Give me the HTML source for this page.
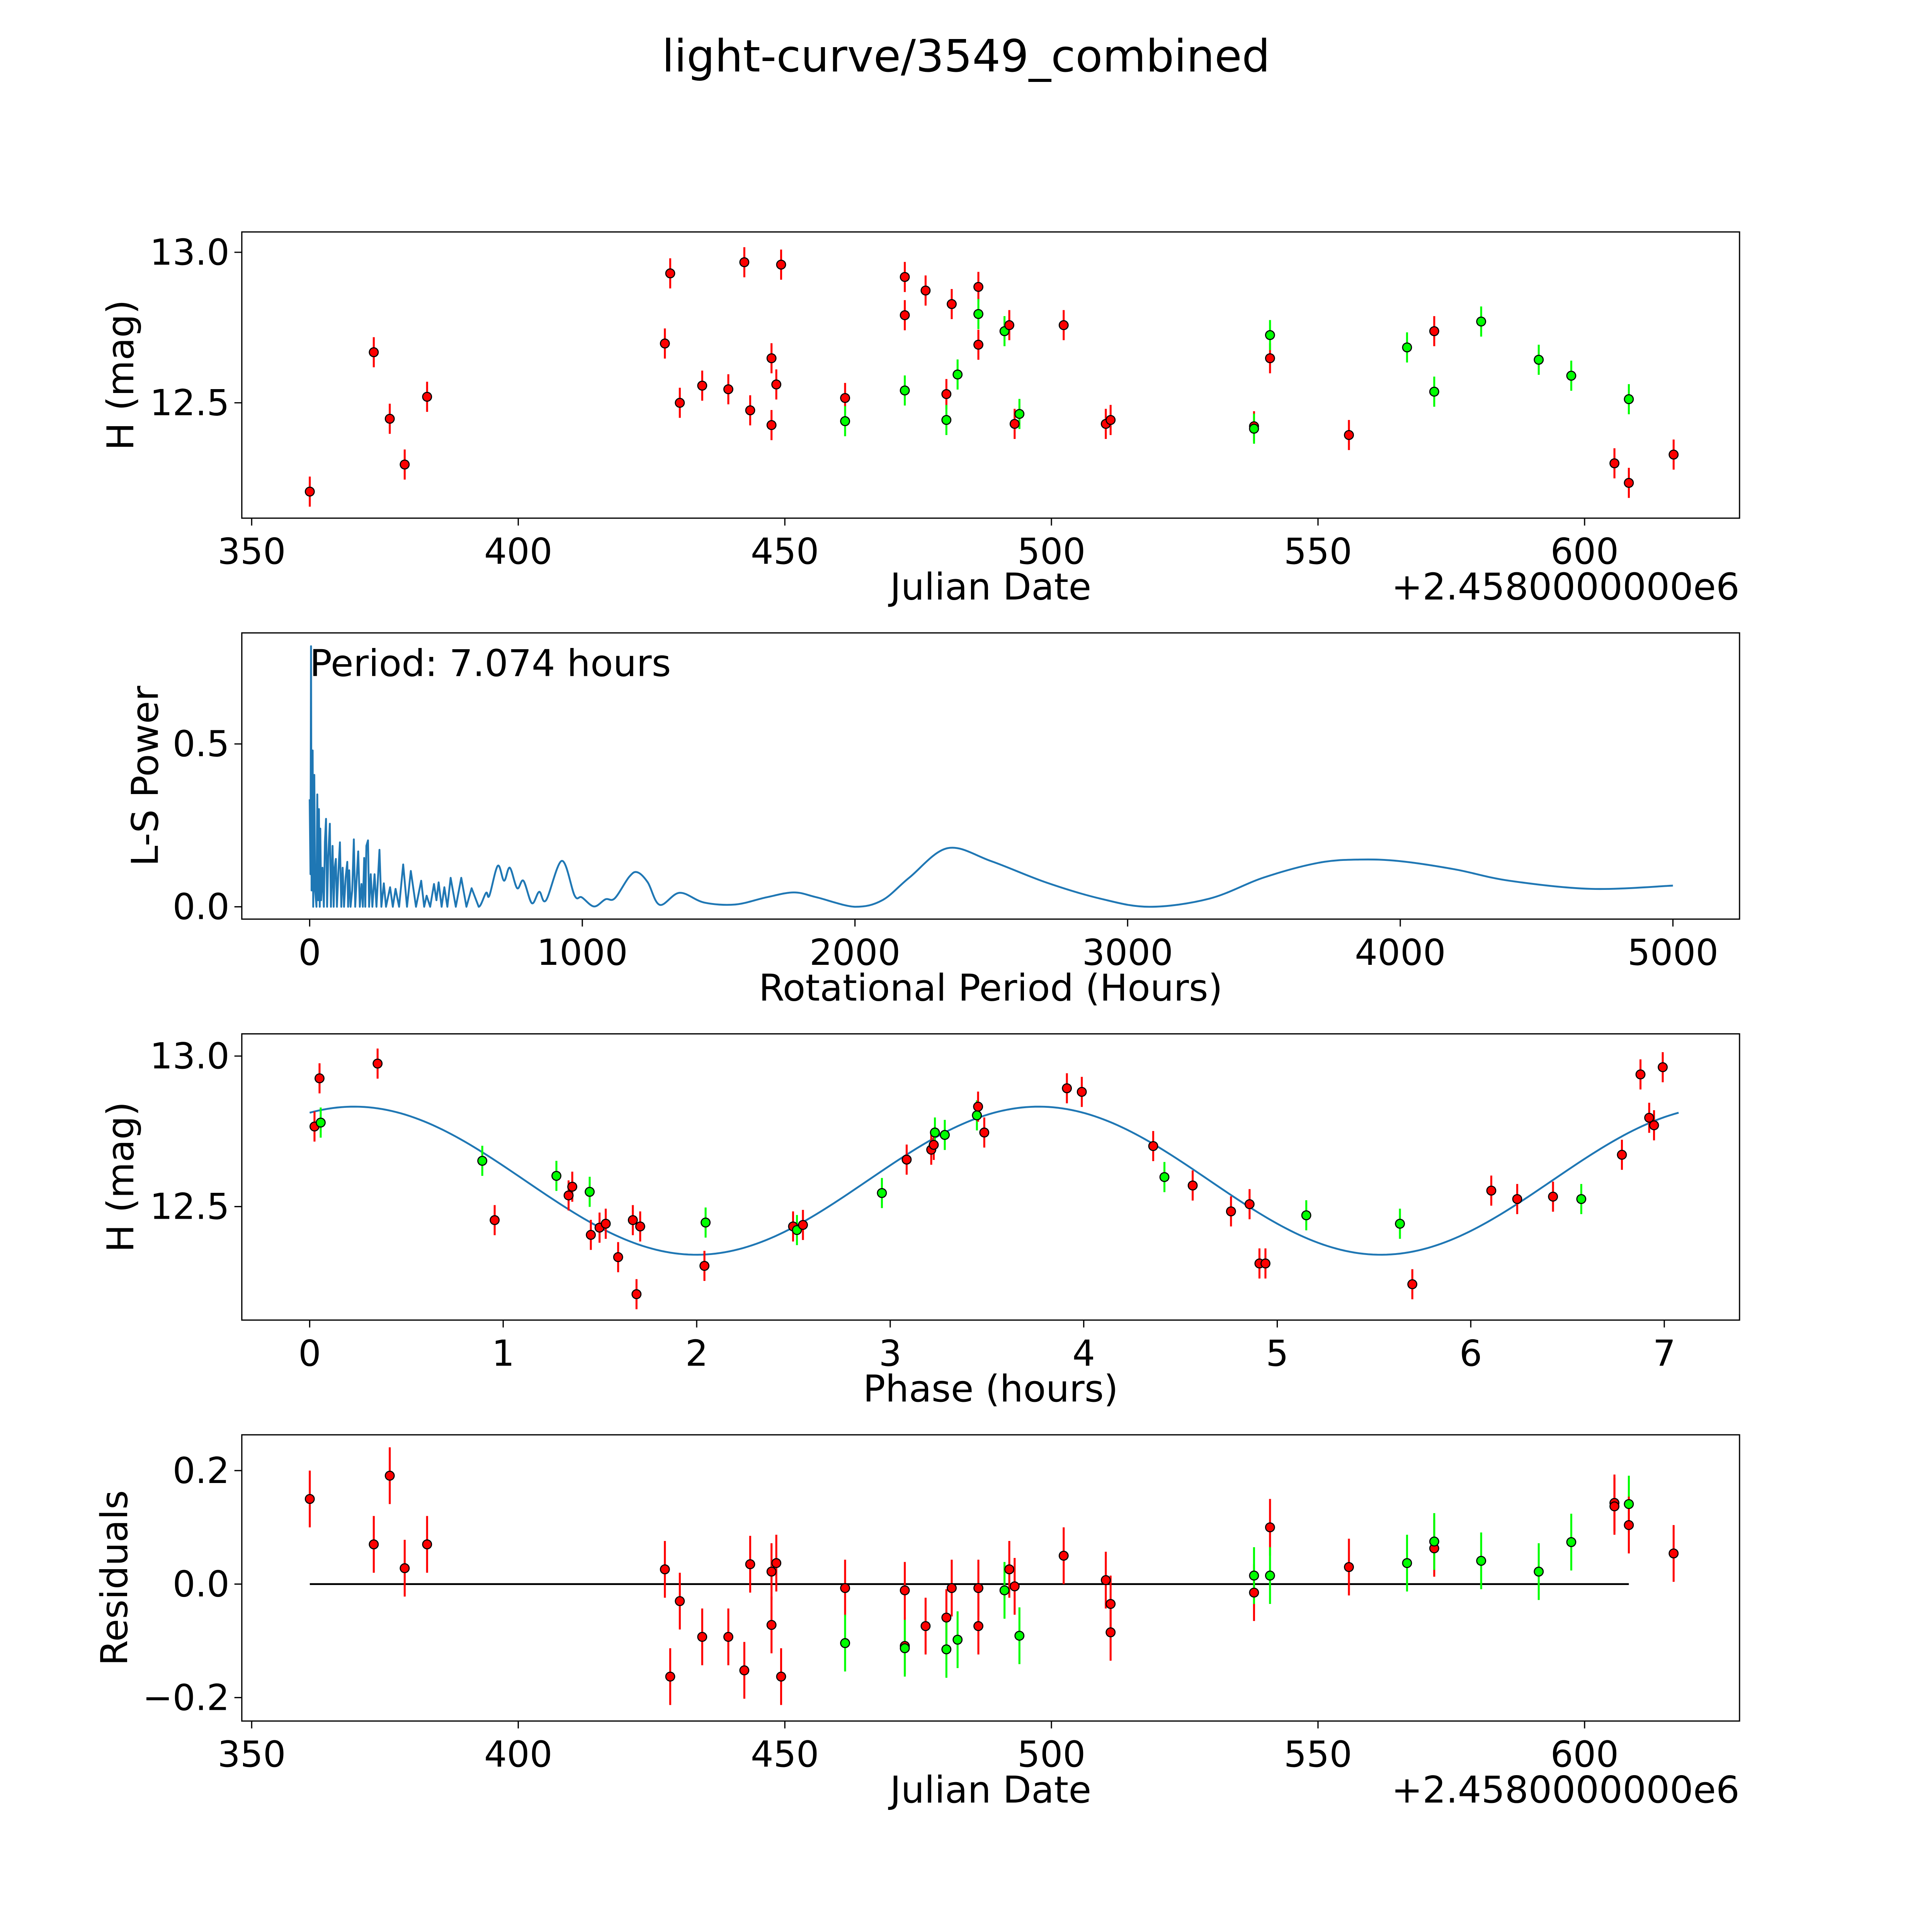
<!DOCTYPE html>
<html><head><meta charset="utf-8"><style>
html,body{margin:0;padding:0;background:#fff;overflow:hidden;}
svg{display:block;position:fixed;left:0;top:0;width:100vw;height:100vh;font-family:"DejaVu Sans","Liberation Sans",sans-serif;}
</style></head><body>
<svg id="fig" xmlns="http://www.w3.org/2000/svg" viewBox="0 0 1566 1566" preserveAspectRatio="xMidYMid meet">
<rect width="1566" height="1566" fill="#fff"/>
<text x="783" y="58" font-size="36" text-anchor="middle">light-curve/3549_combined</text>
</svg>
<script>
// ---- Panel 1 / 4 data (Julian date offset from 2458000) ----
const lcDates = [360.9,372.9,375.9,378.7,382.9,427.5,428.5,430.3,434.5,439.4,442.4,443.5,447.5,447.5,448.4,449.3,461.3,461.3,472.5,472.5,472.5,476.4,480.3,480.3,481.3,482.4,486.3,486.3,486.3,491.2,492.1,493.1,494.0,502.3,510.2,511.1,538.0,538.0,541.0,541.0,555.8,566.7,571.8,571.8,580.6,591.4,597.5,605.6,608.3,608.3,616.7];
const lcMags = [12.205,12.668,12.447,12.295,12.520,12.697,12.930,12.500,12.557,12.545,12.967,12.475,12.648,12.426,12.561,12.959,12.516,12.439,12.918,12.791,12.541,12.873,12.529,12.443,12.828,12.594,12.885,12.795,12.693,12.738,12.758,12.430,12.463,12.758,12.430,12.443,12.422,12.414,12.648,12.725,12.393,12.684,12.738,12.537,12.770,12.643,12.590,12.299,12.512,12.234,12.328];
const lcColors = ['r','r','r','r','r','r','r','r','r','r','r','r','r','r','r','r','r','g','r','r','g','r','r','g','r','g','r','g','r','g','r','r','g','r','r','r','r','g','r','g','r','g','r','g','g','g','g','r','g','r','r'];
const lcErr = 0.05;

// ---- Periodogram ----
const lsPeriods = [
 0,3,5,7,9,11,13,17,20,25,
 28,31,34,37,39,42,47,52,56,60,
 64,68,74,78,84,88,92,96,100,105,
 111,116,121,126,132,138,141,145,150,156,
 162,167,172,178,184,190,195,200,204,208,
 214,218,224,230,238,245,256,263,272,280,
 295,305,315,328,343,357,371,390,409,420,
 429,442,456,465,473,484,494,505,517,536,
 556,575,594,620,647,659,690,713,734,761,
 784,815,842,867,925,972,998,1043,1085,1119,
 1172,1202,1240,1284,1357,1447,1561,1675,1776,1860,
 2000,2100,2200,2340,2500,2700,2900,3080,3300,3500,
 3700,3850,4000,4200,4400,4700,5000];
const lsPower = [
 0.33,0.1,0.80,0.05,0.2,0.48,0.0,0.405,0.05,0.0,
 0.345,0.02,0.30,0.0,0.24,0.02,0.12,0.0,0.2,0.27,
 0.0,0.15,0.255,0.0,0.187,0.0,0.12,0.147,0.0,0.1,
 0.198,0.0,0.12,0.0,0.09,0.138,0.0,0.112,0.0,0.05,
 0.207,0.0,0.08,0.17,0.0,0.07,0.0,0.15,0.0,0.187,
 0.204,0.0,0.1,0.0,0.10,0.0,0.175,0.0,0.072,0.0,
 0.06,0.0,0.055,0.0,0.13,0.0,0.11,0.0,0.08,0.0,
 0.034,0.0,0.07,0.02,0.075,0.0,0.06,0.0,0.089,0.0,
 0.089,0.0,0.057,0.0,0.043,0.034,0.126,0.08,0.12,0.057,
 0.08,0.011,0.046,0.02,0.141,0.034,0.029,0.001,0.023,0.026,
 0.092,0.106,0.075,0.006,0.043,0.013,0.007,0.029,0.044,0.029,
 0.0,0.02,0.09,0.18,0.14,0.075,0.025,0.0,0.025,0.09,
 0.135,0.145,0.14,0.115,0.08,0.055,0.065];

// ---- Phase panel ----
const phHours = [0.025,0.057,0.051,0.351,0.892,0.956,1.275,1.338,1.357,1.447,1.453,1.498,1.530,1.594,1.670,1.689,1.708,2.046,2.040,2.498,2.518,2.549,2.957,3.085,3.212,3.225,3.231,3.282,3.448,3.454,3.486,3.913,3.990,4.359,4.417,4.563,4.761,4.857,4.908,4.939,5.150,5.634,5.698,6.106,6.240,6.425,6.571,6.781,6.877,6.922,6.947,6.992];
const phMags = [12.766,12.779,12.926,12.975,12.652,12.455,12.602,12.537,12.566,12.549,12.406,12.430,12.443,12.332,12.455,12.209,12.434,12.447,12.303,12.434,12.422,12.439,12.545,12.656,12.689,12.705,12.746,12.738,12.803,12.832,12.746,12.893,12.881,12.701,12.598,12.570,12.484,12.508,12.311,12.311,12.471,12.443,12.242,12.553,12.525,12.533,12.525,12.672,12.939,12.795,12.770,12.963];
const phColors = ['r','g','r','r','g','r','g','r','r','g','r','r','r','r','r','r','r','g','r','r','g','r','g','r','r','r','g','g','g','r','r','r','r','r','g','r','r','r','r','r','g','g','r','r','r','r','g','r','r','r','r','r'];
const fitParams = [12.586, 0.246, 0.23, 3.537]; // mean, amplitude, phase of max, half period
const period = 7.074;

// ---- Residuals ----
const resDates = [360.9,372.9,375.9,378.7,382.9,427.5,428.5,430.3,434.5,439.4,442.4,443.5,447.5,447.5,448.4,449.3,461.3,461.3,472.5,472.5,472.5,476.4,480.3,480.3,481.3,482.4,486.3,486.3,491.2,492.1,493.1,494.0,502.3,510.2,511.1,511.1,538.0,538.0,541.0,541.0,555.8,566.7,571.8,571.8,580.6,591.4,597.5,605.6,605.6,608.3,608.3,616.7];
const resVals = [0.150,0.070,0.191,0.028,0.070,0.026,-0.163,-0.030,-0.093,-0.093,-0.152,0.035,-0.072,0.022,0.037,-0.163,-0.007,-0.104,-0.011,-0.109,-0.113,-0.074,-0.059,-0.115,-0.007,-0.098,-0.007,-0.074,-0.011,0.026,-0.004,-0.091,0.050,0.007,-0.035,-0.085,-0.015,0.015,0.100,0.015,0.030,0.037,0.063,0.075,0.041,0.022,0.074,0.143,0.137,0.141,0.104,0.054];
const resColors = ['r','r','r','r','r','r','r','r','r','r','r','r','r','r','r','r','r','g','r','r','g','r','r','g','r','g','r','r','g','r','r','g','r','r','r','r','r','g','r','g','r','g','r','g','g','g','g','r','r','g','r','r'];

const dateTicks = [350,400,450,500,550,600];
const lcTicks = [12.5,13.0];
const lsXTicks = [0,1000,2000,3000,4000,5000];
const lsYTicks = [0.0,0.5];
const phXTicks = [0,1,2,3,4,5,6,7];
const resTicks = [-0.2,0.0,0.2];

const NS='http://www.w3.org/2000/svg';
const svg=document.getElementById('fig');
const X0=196, X1=1410;
const TF=29, LF=30;
const COL={r:'#ff0000',g:'#00ff00'};
function mk(tag,attrs,parent){const e=document.createElementNS(NS,tag);for(const k in attrs)e.setAttribute(k,attrs[k]);(parent||svg).appendChild(e);return e;}
function lin(d0,d1,r0,r1){return v=>r0+(v-d0)*(r1-r0)/(d1-d0);}

function axesFrame(name,top,bot,xs,ys,xticks,yticks,xfmt,yfmt,xlabel,ylabel,ylabelX,offset){
  const g=mk('g',{});
  
  
  xticks.forEach(t=>{const x=xs(t);
    mk('line',{x1:x,x2:x,y1:bot,y2:bot+6,stroke:'#000','stroke-width':1},g);
    const tx=mk('text',{x:x,y:bot+37,'font-size':TF,'text-anchor':'middle'},g);tx.textContent=xfmt(t);
    
    
  });
  yticks.forEach(t=>{const y=ys(t);
    mk('line',{x1:X0-6,x2:X0,y1:y,y2:y,stroke:'#000','stroke-width':1},g);
    const tx=mk('text',{x:X0-10,y:y+10,'font-size':TF,'text-anchor':'end'},g);tx.textContent=yfmt(t);
    
    
  });
  const xl=mk('text',{x:(X0+X1)/2,y:bot+66,'font-size':LF,'text-anchor':'middle'},g);xl.textContent=xlabel;
  
  
  const cy=(top+bot)/2;
  const yl=mk('text',{x:ylabelX,y:cy,'font-size':LF,'text-anchor':'middle',transform:`rotate(-90 ${ylabelX} ${cy})`},g);yl.textContent=ylabel;
  
  
  if(offset){const o=mk('text',{x:X1,y:bot+66,'font-size':LF,'text-anchor':'end'},g);o.textContent=offset;
    
    }
  return g;
}
function border(top,bot){mk('rect',{x:X0,y:top,width:X1-X0,height:bot-top,fill:'none',stroke:'#000','stroke-width':1});}
function points(name,xs,ys,xv,yv,cv,err){
  const g=mk('g',{});
  
  
  xv.forEach((v,i)=>{const x=xs(v),c=COL[cv[i]];
    const l=mk('line',{x1:x,x2:x,y1:ys(yv[i]-err),y2:ys(yv[i]+err),stroke:c,'stroke-width':1.6},g);
    
    
  });
  xv.forEach((v,i)=>{const x=xs(v),y=ys(yv[i]),c=COL[cv[i]];
    const p=mk('circle',{cx:x,cy:y,r:3.6,fill:c,stroke:'#000','stroke-width':0.9},g);
    
    
  });
}
const dfmt=t=>String(t);
const f1=t=>t.toFixed(1);

// Panel 1
{const top=188,bot=420;
 const xs=lin(350,600,204,1284.4), ys=lin(12.5,13.0,326.5,204.5);
 axesFrame('light-curve',top,bot,xs,ys,dateTicks,lcTicks,dfmt,f1,'Julian Date','H (mag)',108,'+2.4580000000e6');
 points('light-curve',xs,ys,lcDates,lcMags,lcColors,lcErr);
 border(top,bot);}

// Panel 2
{const top=513,bot=745;
 const xs=lin(0,5000,251,1356), ys=lin(0,0.5,735,603);
 axesFrame('periodogram',top,bot,xs,ys,lsXTicks,lsYTicks,dfmt,f1,'Rotational Period (Hours)','L-S Power',128,null);
 const n=Math.min(lsPeriods.length,lsPower.length);
 const P=[];for(let i=0;i<n;i++)P.push([xs(lsPeriods[i]),ys(lsPower[i])]);
 let d='M'+P[0][0].toFixed(2)+' '+P[0][1].toFixed(2);
 for(let i=1;i<n;i++){
   if(lsPeriods[i]<=620){d+=' L'+P[i][0].toFixed(2)+' '+P[i][1].toFixed(2);continue;}
   const p0=P[Math.max(i-2,0)],p1=P[i-1],p2=P[i],p3=P[Math.min(i+1,n-1)];
   const c1x=p1[0]+(p2[0]-p0[0])/6,c1y=Math.min(735,p1[1]+(p2[1]-p0[1])/6);
   const c2x=p2[0]-(p3[0]-p1[0])/6,c2y=Math.min(735,p2[1]-(p3[1]-p1[1])/6);
   d+=` C${c1x.toFixed(2)} ${c1y.toFixed(2)} ${c2x.toFixed(2)} ${c2y.toFixed(2)} ${p2[0].toFixed(2)} ${p2[1].toFixed(2)}`;
 }
 const pl=mk('path',{d:d,fill:'none',stroke:'#1f77b4','stroke-width':1.5,'stroke-linejoin':'round'});
 
 
 const t=mk('text',{x:251,y:548,'font-size':30});t.textContent='Period: '+period.toFixed(3)+' hours';
 
 
 border(top,bot);}

// Panel 3
{const top=838,bot=1070;
 const xs=lin(0,7,251,1349), ys=lin(12.5,13.0,978,856);
 axesFrame('phase',top,bot,xs,ys,phXTicks,lcTicks,dfmt,f1,'Phase (hours)','H (mag)',108,null);
 let d='';const N=300;
 for(let i=0;i<=N;i++){const p=period*i/N;const m=fitParams[0]+fitParams[1]*Math.cos(2*Math.PI*(p-fitParams[2])/fitParams[3]);
   d+=(i?'L':'M')+xs(p).toFixed(2)+' '+ys(m).toFixed(2)+' ';}
 const fl=mk('path',{d:d,fill:'none',stroke:'#1f77b4','stroke-width':1.5});
 
 
 points('phase',xs,ys,phHours,phMags,phColors,lcErr);
 border(top,bot);}

// Panel 4
{const top=1163,bot=1395;
 const xs=lin(350,600,204,1284.4), ys=lin(0,0.2,1284,1192);
 axesFrame('residuals',top,bot,xs,ys,dateTicks,resTicks,dfmt,t=>(t<0?'\u2212':'')+Math.abs(t).toFixed(1),'Julian Date','Residuals',103,'+2.4580000000e6');
 const zl=mk('line',{x1:xs(lcDates[0]),x2:xs(608.3),y1:ys(0),y2:ys(0),stroke:'#000','stroke-width':1.5});
 
 
 points('residuals',xs,ys,resDates,resVals,resColors,lcErr);
 border(top,bot);}
</script>
</body></html>
